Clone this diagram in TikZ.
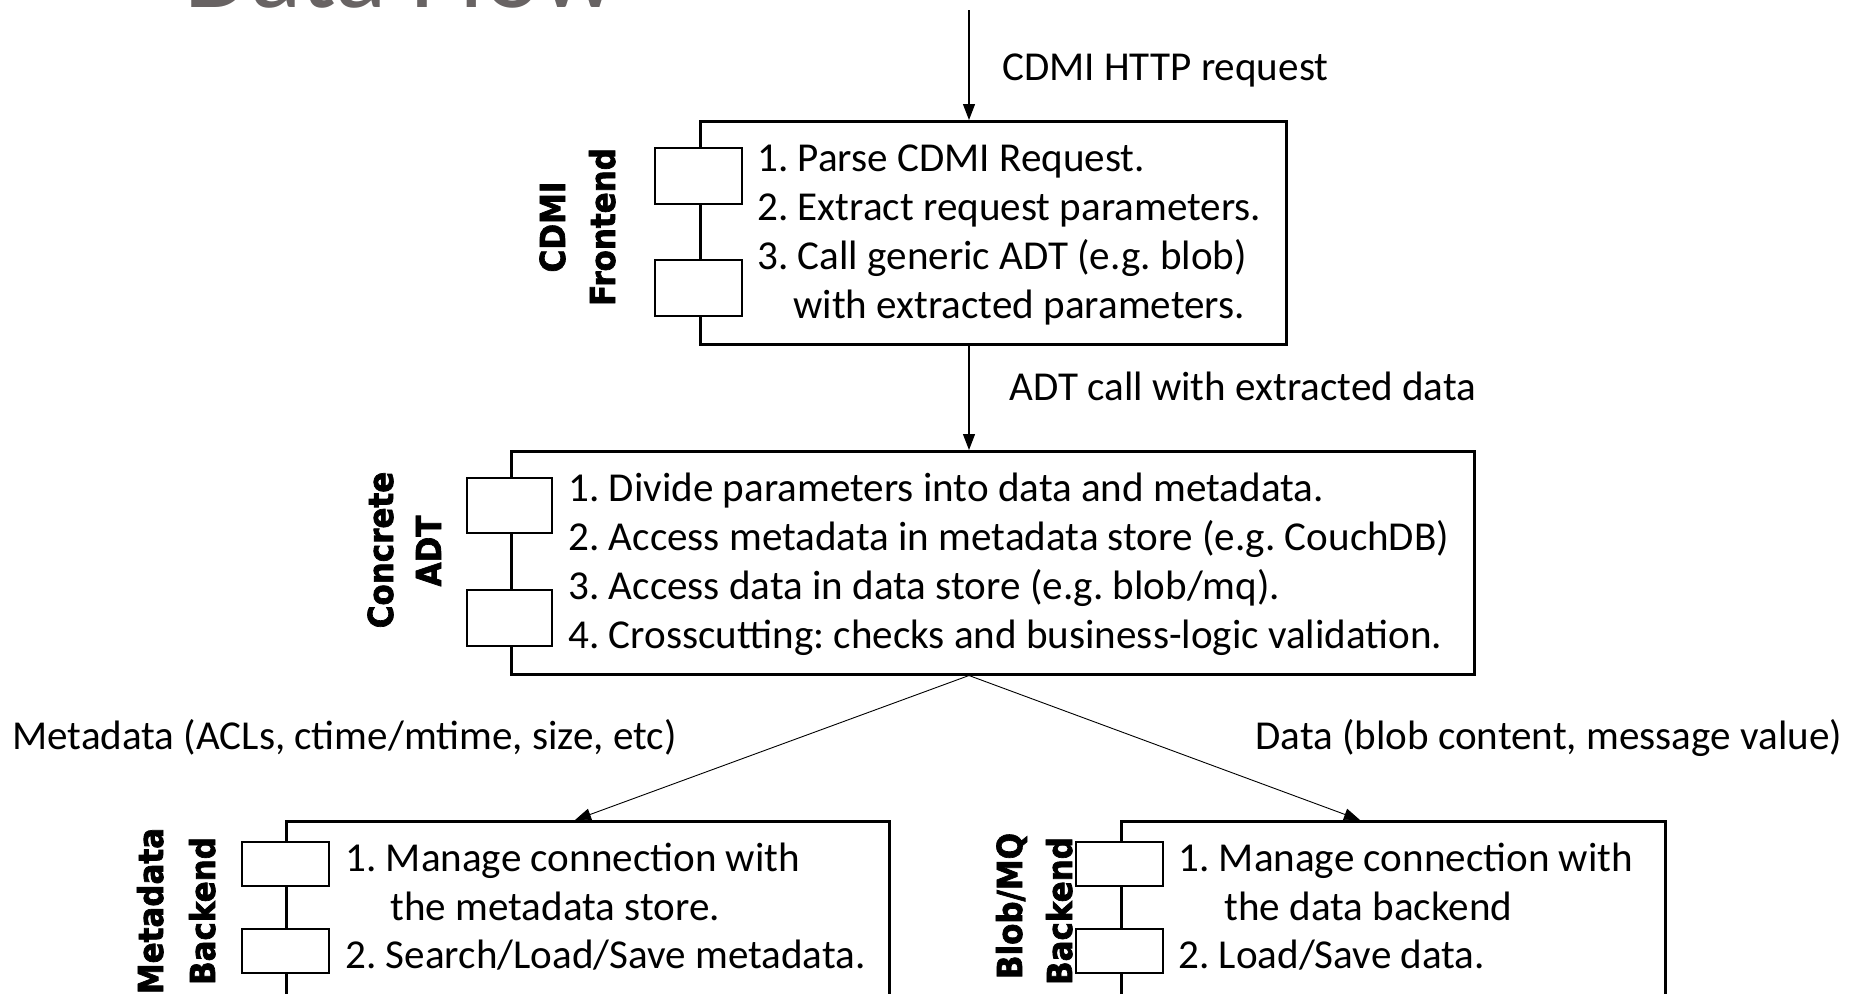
\documentclass[tikz,border=0pt]{standalone}
\usepackage{fontspec}
\setmainfont{Carlito}
\newfontfamily\lblfont{DejaVu Sans Bold}[FakeStretch=0.9,FakeBold=2]
\usetikzlibrary{arrows.meta,calc}
\definecolor{titlegray}{RGB}{104,99,99}
\frenchspacing
\begin{document}
\begin{tikzpicture}[x=0.5pt,y=-0.5pt,
  box/.style={draw, line width=1.25pt, inner sep=0pt, anchor=north west},
  comp/.style={draw, fill=white, line width=1.25pt},
  txt/.style={inner sep=0pt, anchor=base west, font=\fontsize{20.55pt}{24.5pt}\selectfont\frenchspacing},
  lbl/.style={inner sep=0pt, anchor=base, rotate=90, font=\lblfont\fontsize{17.2pt}{20pt}\selectfont},
  arr/.style={line width=0.6pt, -{Triangle[length=8pt,width=6pt]}},
  darr/.style={line width=0.45pt, -{Triangle[length=8pt,width=6pt]}}]
\useasboundingbox (0,0) rectangle (1851,993);

% title (mostly cut off)
\node[inner sep=0pt, anchor=base west, text=titlegray, font=\fontsize{53.5pt}{60pt}\selectfont] (title) at (184,7) {Data Flow};

% boxes
\node[box, minimum width=293pt, minimum height=111.5pt] (fe) at (699,120) {};
\node[box, minimum width=481.5pt, minimum height=111.5pt] (adt) at (510,450) {};
\node[box, minimum width=301.5pt, minimum height=95pt] (mb) at (285,820) {};
\node[box, minimum width=272pt, minimum height=95pt] (bb) at (1120,820) {};

% component rectangles
\draw[comp] (655,148) rectangle (742,204);
\draw[comp] (655,260) rectangle (742,316);
\draw[comp] (467,478) rectangle (552,533);
\draw[comp] (467,590) rectangle (552,646);
\draw[comp] (242,842) rectangle (329,886);
\draw[comp] (242,929) rectangle (329,973);
\draw[comp] (1076,842) rectangle (1163,886);
\draw[comp] (1076,929) rectangle (1163,973);

% rotated labels
\node[lbl] (feA) at (565,227) {CDMI};
\node[lbl] (feB) at (615,227) {Frontend};
\node[lbl] (adA) at (393,550) {Concrete};
\node[lbl] (adB) at (441,551) {ADT};
\node[lbl] (mbA) at (163,911) {Metadata};
\node[lbl] (mbB) at (215,911) {Backend};
\node[lbl] (bbA) at (1022,906) {Blob/MQ};
\node[lbl] (bbB) at (1072,911) {Backend};

% box texts
\node[txt] (f1) at (757,171) {1. Parse CDMI Request.};
\node[txt] (f2) at (757,220) {2. Extract request parameters.};
\node[txt] (f3) at (757,269) {3. Call generic ADT (e.g. blob)};
\node[txt] (f4) at (793,318) {with extracted parameters.};

\node[txt] (a1) at (568,501) {1. Divide parameters into data and metadata.};
\node[txt] (a2) at (568,550) {2. Access metadata in metadata store (e.g. CouchDB)};
\node[txt] (a3) at (568,599) {3. Access data in data store (e.g. blob/mq).};
\node[txt] (a4) at (568,648) {4. Crosscutting: checks and business-logic validation.};

\node[txt] (m1) at (345,871) {1. Manage connection with};
\node[txt] (m2) at (390,920) {the metadata store.};
\node[txt] (m3) at (345,968) {2. Search/Load/Save metadata.};

\node[txt] (b1) at (1178,871) {1. Manage connection with};
\node[txt] (b2) at (1224,920) {the data backend};
\node[txt] (b3) at (1178,968) {2. Load/Save data.};

% connector labels
\node[txt] (l1) at (1002,80) {CDMI HTTP request};
\node[txt] (l2) at (1009,400) {ADT call with extracted data};
\node[txt] (l3) at (12,749) {Metadata (ACLs, ctime/mtime, size, etc)};
\node[txt] (l4) at (1255,749) {Data (blob content, message value)};

% connectors
\coordinate (in) at (969,10);
\coordinate (mtip) at ($(mb.north west)+(290,0)$);
\coordinate (btip) at ($(bb.north west)+(240,0)$);
\draw[arr] (in) -- (in |- fe.north);
\draw[arr] (in |- fe.south) -- (in |- adt.north);
\draw[darr] (in |- adt.south) -- (mtip);
\draw[darr] (in |- adt.south) -- (btip);
\end{tikzpicture}
\end{document}
